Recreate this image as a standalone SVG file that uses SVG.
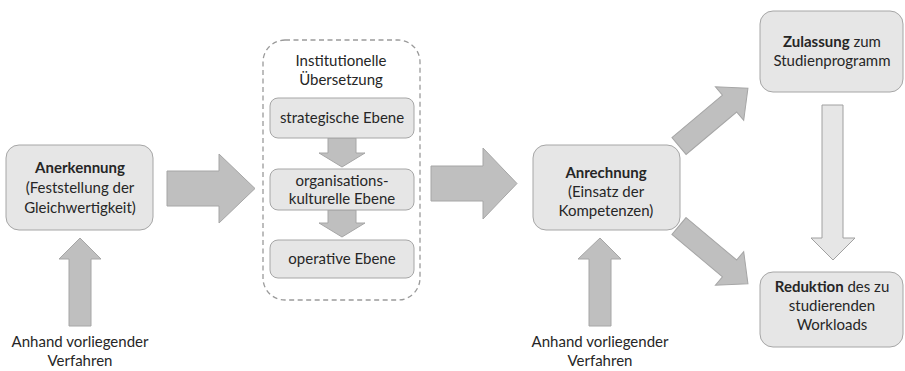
<svg xmlns="http://www.w3.org/2000/svg" width="905" height="371" viewBox="0 0 905 371">
<style>
text{font-family:Lato,"Liberation Sans",sans-serif;font-size:15px;fill:#262626;text-anchor:middle}
.b{font-weight:bold}
.box{fill:#e6e6e6;stroke:#a6a6a6;stroke-width:1}
.arr{fill:#bfbfbf;stroke:#a6a6a6;stroke-width:1}
.arrl{fill:#e6e6e6;stroke:#a0a0a0;stroke-width:1}
.dash{fill:none;stroke:#9a9a9a;stroke-width:1.3;stroke-dasharray:5 3.5}
</style>
<rect width="905" height="371" fill="#ffffff"/>
<g id="connectors">
<polygon class="arr" points="167,171 219,171 219,154 255,188.5 219,223 219,206 167,206"/>
<polygon class="arr" points="431,166 483,166 483,148 517,183.5 483,219 483,201 431,201"/>
<polygon class="arr" points="69,326 69,259 59,259 80,238 101,259 91,259 91,326"/>
<polygon class="arr" points="589,326 589,259 578,259 600,238 621,259 611,259 611,326"/>
<polygon class="arr" points="0,-11 66,-11 66,-22 90,0 66,22 66,11 0,11" transform="translate(679,146) rotate(-40)"/>
<polygon class="arr" points="0,-11 66,-11 66,-22 90,0 66,22 66,11 0,11" transform="translate(679,226) rotate(40)"/>
<polygon class="arrl" points="822,105 843,105 843,238 855,238 833,260 811,238 822,238"/>
<polygon class="arr" points="328,138 356,138 356,153 365,153 342,167 319,153 328,153"/>
<polygon class="arr" points="328,210 356,210 356,223 365,223 342,237 319,223 328,223"/>
</g>
<g id="anerkennung">
<rect class="box" x="6" y="145" width="147" height="85" rx="13"/>
<text class="b" x="80" y="173">Anerkennung</text>
<text x="80" y="193">(Feststellung der</text>
<text x="80" y="213">Gleichwertigkeit)</text>
</g>
<g id="verfahren-links">
<text x="80" y="347">Anhand vorliegender</text>
<text x="80" y="366">Verfahren</text>
</g>
<g id="institutionelle-uebersetzung">
<rect class="dash" x="263" y="40" width="157" height="260" rx="22"/>
<text x="341" y="66">Institutionelle</text>
<text x="341" y="85">Übersetzung</text>
</g>
<g id="strategische-ebene">
<rect class="box" x="270" y="98" width="144" height="40" rx="8"/>
<text x="342" y="123">strategische Ebene</text>
</g>
<g id="organisationskulturelle-ebene">
<rect class="box" x="270" y="169" width="144" height="41" rx="8"/>
<text x="342" y="186">organisations-</text>
<text x="342" y="204">kulturelle Ebene</text>
</g>
<g id="operative-ebene">
<rect class="box" x="270" y="240" width="144" height="38" rx="8"/>
<text x="342" y="264">operative Ebene</text>
</g>
<g id="anrechnung">
<rect class="box" x="533" y="145" width="147" height="85" rx="13"/>
<text class="b" x="606" y="178">Anrechnung</text>
<text x="606" y="197">(Einsatz der</text>
<text x="606" y="216">Kompetenzen)</text>
</g>
<g id="verfahren-rechts">
<text x="600" y="347">Anhand vorliegender</text>
<text x="600" y="366">Verfahren</text>
</g>
<g id="zulassung">
<rect class="box" x="760" y="11" width="143" height="81" rx="13"/>
<text x="832" y="47"><tspan class="b">Zulassung</tspan> zum</text>
<text x="832" y="66">Studienprogramm</text>
</g>
<g id="reduktion">
<rect class="box" x="760" y="272" width="143" height="75" rx="13"/>
<text x="832" y="292"><tspan class="b">Reduktion</tspan> des zu</text>
<text x="832" y="311">studierenden</text>
<text x="832" y="330">Workloads</text>
</g>
</svg>
